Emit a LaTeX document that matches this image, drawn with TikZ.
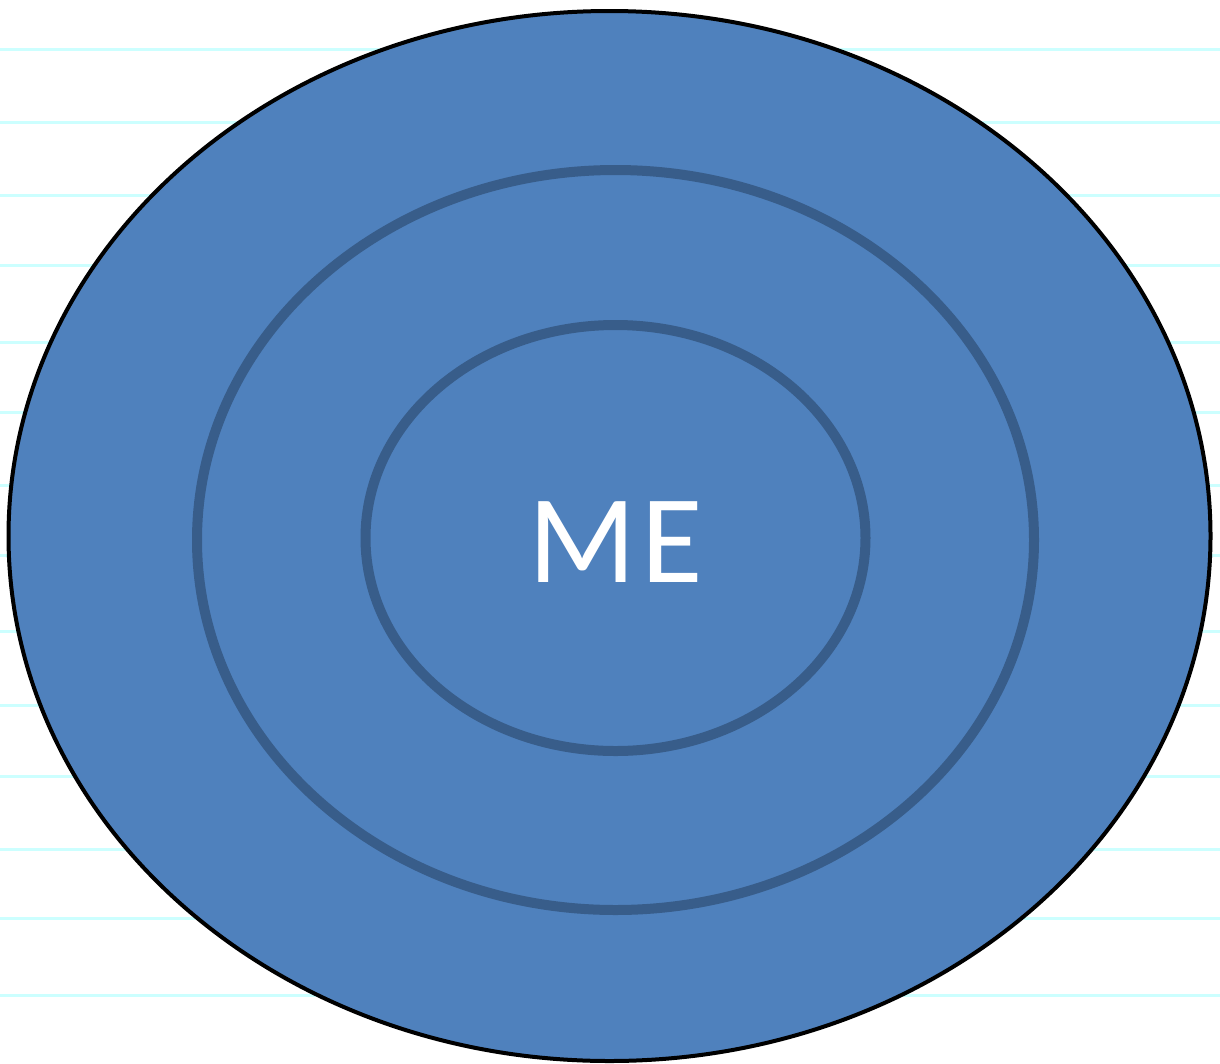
\documentclass[tikz,border=0pt]{standalone}
\usepackage{fontspec}
\setmainfont{Carlito}
\definecolor{ruleline}{HTML}{CCFFFF}
\definecolor{meblue}{HTML}{4F81BD}
\definecolor{ringblue}{HTML}{385D8A}
\begin{document}
\begin{tikzpicture}[x=1pt,y=-1pt,
  paperline/.style={draw=ruleline,line width=3pt},
  ring/.style={draw=ringblue,line width=10pt}]
\useasboundingbox (0,0) rectangle (1220,1063);
\fill[white] (0,0) rectangle (1220,1063);
\foreach \yy in {49,122,195,265,342,412,485,555,631,705,776,849,918,995}
  \draw[paperline] (0,\yy) -- (1220,\yy);
\filldraw[fill=meblue,draw=black,line width=4pt] (609.5,536) ellipse [x radius=601, y radius=525];
\draw[ring] (615.5,540) ellipse [x radius=418.5, y radius=370];
\draw[ring] (615.5,538) ellipse [x radius=250, y radius=213];
\node[text=white,inner sep=0pt,font=\fontsize{126}{126}\selectfont] (me) at (616,542) {\addfontfeature{LetterSpace=4}ME};
\end{tikzpicture}
\end{document}
